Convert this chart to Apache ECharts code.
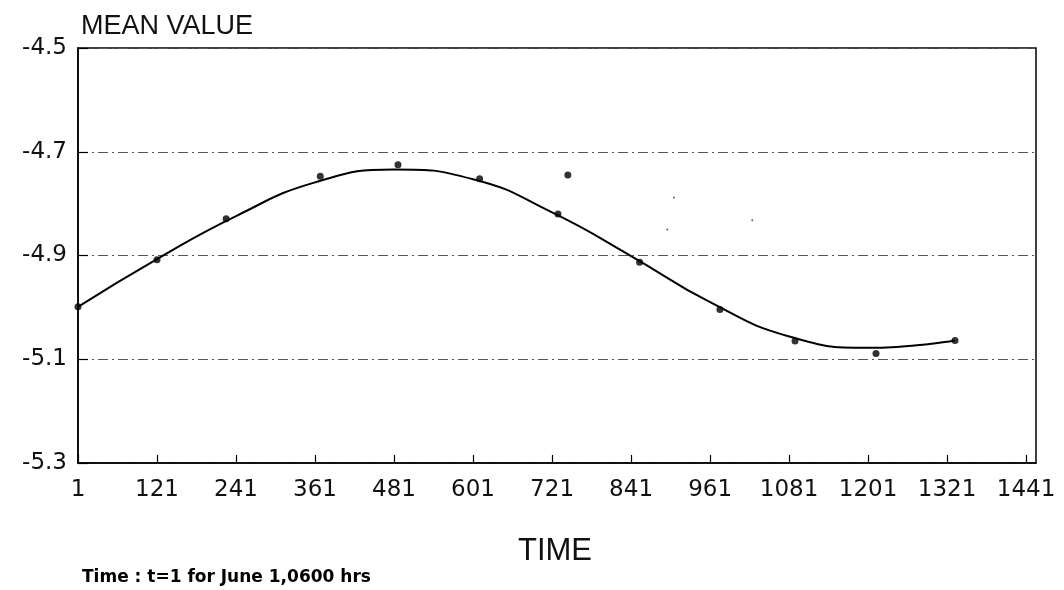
<!DOCTYPE html>
<html>
<head>
<meta charset="utf-8">
<script src="https://cdn.jsdelivr.net/npm/echarts@6/dist/echarts.min.js"></script>
<style>
html,body{margin:0;padding:0;background:#fff;}
#chart{width:1064px;height:590px;}
</style>
</head>
<body>
<div id="chart"></div>
<script>
// Observed mean values (dots)
const obsTime  = [1, 121, 226, 369, 487, 611, 730, 745, 854, 976, 1090, 1213, 1333];
const obsValue = [-4.999, -4.908, -4.829, -4.747, -4.725, -4.752, -4.820, -4.745, -4.913, -5.004, -5.065, -5.089, -5.064];

// Faint specks visible in the plot
const speckTime  = [896, 906, 1025];
const speckValue = [-4.850, -4.788, -4.832];

// Fitted smooth curve
const fitTime  = [1, 121, 241, 361, 481, 601, 721, 841, 961, 1081, 1201, 1333];
const fitValue = [-4.999, -4.907, -4.824, -4.759, -4.734, -4.753, -4.817, -4.901, -4.990, -5.056, -5.078, -5.064];

const xTickStart = 1, xTickStep = 120, xMax = 1456;
const yMin = -5.3, yMax = -4.5, yStep = 0.2;

const yLabel = 'MEAN VALUE';
const xLabel = 'TIME';
const footnote = 'Time : t=1 for June 1,0600 hrs';

const zip = (a, b) => a.map((v, i) => [v, b[i]]);

const chart = echarts.init(document.getElementById('chart'), null, {renderer: 'canvas'});
chart.setOption({
  animation: false,
  backgroundColor: '#fff',
  title: [
    {text: yLabel, left: 76, top: 8, textStyle: {fontFamily: 'Liberation Sans', fontSize: 27, fontWeight: 'normal', color: '#111'}},
    {text: xLabel, left: 550, top: 531, textAlign: 'center', textStyle: {fontFamily: 'Liberation Sans', fontSize: 31, fontWeight: 'normal', color: '#111'}},
    {text: footnote, left: 77, top: 564, textStyle: {fontFamily: 'DejaVu Sans', fontSize: 17, fontWeight: 'bold', color: '#000'}}
  ],
  grid: {left: 78, right: 28, top: 48, bottom: 127, show: true, borderColor: '#000', borderWidth: 1.5, backgroundColor: 'transparent'},
  xAxis: {
    type: 'value', min: xTickStart, max: xMax, interval: xTickStep,
    axisLine: {show: true, onZero: false, lineStyle: {color: '#000', width: 1.5}},
    axisTick: {show: true, inside: true, length: 8, lineStyle: {color: '#000', width: 1.2}},
    axisLabel: {showMaxLabel: false, margin: 16, fontFamily: 'DejaVu Sans', fontSize: 23, color: '#111', formatter: v => String(Math.round(v))},
    splitLine: {show: false}
  },
  yAxis: {
    type: 'value', min: yMin, max: yMax, interval: yStep,
    axisLine: {show: true, onZero: false, lineStyle: {color: '#000', width: 1.5}},
    axisTick: {show: true, inside: true, length: 10, lineStyle: {color: '#000', width: 1.2}},
    axisLabel: {margin: 11, padding: [6, 0, 0, 0], fontFamily: 'DejaVu Sans', fontSize: 23, color: '#111', formatter: v => v.toFixed(1)},
    splitLine: {show: true, lineStyle: {color: '#555', width: 1, type: [10, 4, 2, 4]}}
  },
  series: [
    {
      type: 'line', data: zip(fitTime, fitValue), smooth: 0.5, showSymbol: false,
      lineStyle: {color: '#000', width: 2}, z: 3
    },
    {
      type: 'scatter', data: zip(obsTime, obsValue), symbol: 'circle', symbolSize: 7,
      itemStyle: {color: '#000'}, z: 4
    },
    {
      type: 'scatter', data: zip(speckTime, speckValue), symbol: 'circle', symbolSize: 2,
      itemStyle: {color: '#333'}, z: 4
    }
  ]
});
</script>
</body>
</html>
